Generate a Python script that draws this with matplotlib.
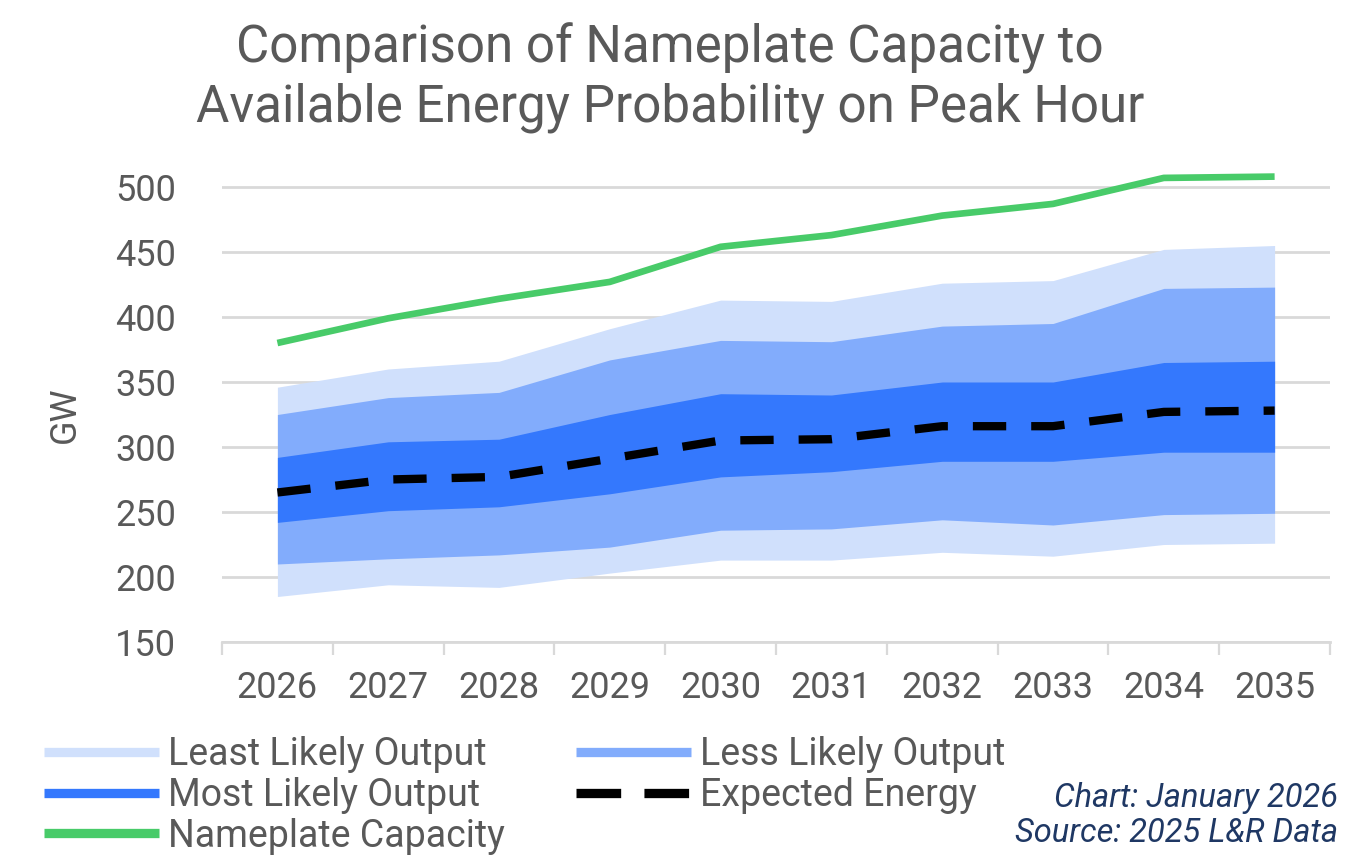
import matplotlib
matplotlib.use("Agg")
import matplotlib.pyplot as plt
from matplotlib.lines import Line2D
import numpy as np

plt.rcParams['font.family'] = ['Roboto', 'DejaVu Sans']

years = ['2026', '2027', '2028', '2029', '2030', '2031', '2032', '2033', '2034', '2035']
nameplate = [380, 399, 414, 427, 454, 463, 478, 487, 507, 508]
least_top = [346, 360, 366, 391, 413, 412, 426, 428, 452, 455]
less_top = [325, 338, 342, 367, 382, 381, 393, 395, 422, 423]
most_top = [292, 304, 306, 325, 341, 340, 350, 350, 365, 366]
expected = [265, 275, 277, 291, 305, 306, 316, 316, 327, 328]
most_bot = [242, 251, 254, 264, 277, 281, 289, 289, 296, 296]
less_bot = [210, 214, 217, 223, 236, 237, 244, 240, 248, 249]
least_bot = [185, 194, 192, 203, 213, 213, 219, 216, 225, 226]
yticks = [150, 200, 250, 300, 350, 400, 450, 500]

c_least = '#d0e0fc'
c_less = '#82acfc'
c_most = '#3478fd'
c_green = '#48cb69'
c_text = '#595959'
c_grid = '#d9d9d9'

W, H = 1368, 855
fig = plt.figure(figsize=(W / 100, H / 100), dpi=100)
ax = fig.add_axes([222 / W, 1 - 642 / H, (1330 - 222) / W, (642 - 167.5) / H])

x = np.arange(len(years))
ax.fill_between(x, least_bot, least_top, color=c_least, lw=0, zorder=2)
ax.fill_between(x, less_bot, less_top, color=c_less, lw=0, zorder=3)
ax.fill_between(x, most_bot, most_top, color=c_most, lw=0, zorder=4)
ax.plot(x, expected, color='black', lw=6, dashes=(4, 3), zorder=5)
ax.plot(x, nameplate, color=c_green, lw=4.8, zorder=6, solid_capstyle='butt')

ax.set_xlim(-0.5, len(years) - 0.5)
ax.set_ylim(150, 515)
ax.set_yticks(yticks)
ax.set_yticklabels([str(v) for v in yticks])
ax.yaxis.grid(True, color=c_grid, lw=2, zorder=0)
ax.set_axisbelow(True)
ax.tick_params(axis='y', length=0, pad=33, labelsize=26, labelcolor=c_text)

ax.set_xticks(x)
ax.set_xticklabels(years)
ax.set_xticks(np.arange(-0.5, len(years)), minor=True)
ax.tick_params(axis='x', which='major', length=0, pad=20, labelsize=26, labelcolor=c_text)
ax.tick_params(axis='x', which='minor', length=9.5, width=1.6, color=c_grid)

for s in ['top', 'right', 'left']:
    ax.spines[s].set_visible(False)
ax.spines['bottom'].set_color(c_grid)
ax.spines['bottom'].set_linewidth(2)

fig.text(65 / W, 1 - 415 / H, 'GW', rotation=90, ha='center', va='center',
         fontsize=26, color=c_text)

fig.text(670 / W, 1 - 63 / H, 'Comparison of Nameplate Capacity to', ha='center',
         va='baseline', fontsize=36.8, color=c_text)
fig.text(670 / W, 1 - 121.7 / H, 'Available Energy Probability on Peak Hour', ha='center',
         va='baseline', fontsize=36.8, color=c_text)

handles = [
    Line2D([], [], color=c_least, lw=6.7, solid_capstyle='butt'),
    Line2D([], [], color=c_most, lw=6.7, solid_capstyle='butt'),
    Line2D([], [], color=c_green, lw=6.7, solid_capstyle='butt'),
    Line2D([], [], color=c_less, lw=6.7, solid_capstyle='butt'),
    Line2D([], [], color='black', lw=6.7, dashes=(4.8, 2.5), dash_capstyle='butt'),
]
labels = ['Least Likely Output', 'Most Likely Output', 'Nameplate Capacity',
          'Less Likely Output', 'Expected Energy']
leg = fig.legend(handles, labels, ncol=2, loc='upper left',
                 bbox_to_anchor=(44 / W, 1 - 736 / H), frameon=False,
                 fontsize=27, handlelength=3.07, handletextpad=0.24,
                 columnspacing=1.9, labelspacing=0.1, borderaxespad=0,
                 borderpad=0)
for t in leg.get_texts():
    t.set_color(c_text)

fig.text(1338 / W, 1 - 807 / H, 'Chart: January 2026', ha='right', va='baseline',
         fontsize=23.5, style='italic', color='#1f3864')
fig.text(1338 / W, 1 - 842 / H, 'Source: 2025 L&R Data', ha='right', va='baseline',
         fontsize=23.5, style='italic', color='#1f3864')

fig.savefig('out.png', dpi=100)
